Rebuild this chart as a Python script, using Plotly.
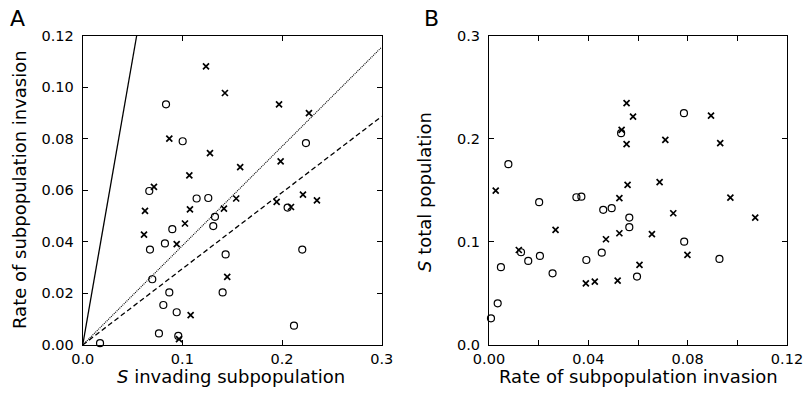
import numpy as np
import plotly.graph_objects as go

# ---------------- Panel A data ----------------
a_circle_x = [0.0836, 0.1003, 0.0668, 0.1143, 0.1260, 0.1327, 0.1310, 0.0899, 0.0825, 0.0675,
              0.1434, 0.0698, 0.0869, 0.1404, 0.0809, 0.0943, 0.0765, 0.0959, 0.0174, 0.2240,
              0.2056, 0.2203, 0.2120]
a_circle_y = [0.0933, 0.0790, 0.0597, 0.0568, 0.0570, 0.0497, 0.0461, 0.0449, 0.0394, 0.0370,
              0.0351, 0.0255, 0.0204, 0.0204, 0.0155, 0.0127, 0.0045, 0.0035, 0.0007, 0.0783,
              0.0533, 0.0370, 0.0075]
a_cross_x = [0.1237, 0.1427, 0.1970, 0.2270, 0.0869, 0.1277, 0.1580, 0.1986, 0.1070, 0.0715,
             0.1540, 0.2210, 0.2350, 0.1417, 0.1946, 0.2090, 0.0625, 0.1076, 0.1026, 0.0615,
             0.0943, 0.1450, 0.1083, 0.0966]
a_cross_y = [0.1080, 0.0977, 0.0933, 0.0899, 0.0800, 0.0744, 0.0690, 0.0712, 0.0658, 0.0613,
             0.0568, 0.0583, 0.0561, 0.0529, 0.0555, 0.0535, 0.0520, 0.0526, 0.0471, 0.0428,
             0.0391, 0.0264, 0.0116, 0.0023]
# reference line slopes (solid, dotted, dashed)
slope_solid = 2.215
slope_dotted = 0.385
slope_dashed = 0.2955

# ---------------- Panel B data ----------------
b_circle_x = [0.0008, 0.0035, 0.0048, 0.0078, 0.0129, 0.0158, 0.0205, 0.0202, 0.0256, 0.0352,
              0.0372, 0.0392, 0.0454, 0.0460, 0.0494, 0.0532, 0.0565, 0.0565, 0.0596, 0.0785,
              0.0786, 0.0928]
b_circle_y = [0.0259, 0.0404, 0.0754, 0.1753, 0.0899, 0.0815, 0.0863, 0.1384, 0.0695, 0.1432,
              0.1438, 0.0824, 0.0895, 0.1310, 0.1326, 0.2053, 0.1235, 0.1142, 0.0663, 0.2247,
              0.1002, 0.0834]
b_cross_x = [0.0027, 0.0120, 0.0268, 0.0390, 0.0426, 0.0471, 0.0525, 0.0525, 0.0518, 0.0534,
             0.0554, 0.0554, 0.0558, 0.0580, 0.0606, 0.0894, 0.0710, 0.0931, 0.0687, 0.0972,
             0.0742, 0.1072, 0.0656, 0.0799]
b_cross_y = [0.1497, 0.0921, 0.1115, 0.0598, 0.0614, 0.1025, 0.1423, 0.1083, 0.0624, 0.2085,
             0.1947, 0.2344, 0.1552, 0.2214, 0.0776, 0.2224, 0.1988, 0.1956, 0.1578, 0.1429,
             0.1277, 0.1235, 0.1074, 0.0873]

FONT = "DejaVu Sans, Liberation Sans, Arial, sans-serif"
W, H = 805, 407

circ = dict(symbol="circle-open", size=7, color="black", line=dict(width=1.2, color="black"))
crs = dict(symbol="x-thin-open", size=6, color="black", line=dict(width=1.7, color="black"))

fig = go.Figure()

# Panel A lines
xs_solid = np.array([0.0, 0.12 / slope_solid])
fig.add_trace(go.Scatter(x=xs_solid, y=slope_solid * xs_solid, mode="lines",
                         line=dict(color="black", width=1.3), xaxis="x", yaxis="y", showlegend=False))
xs_full = np.array([0.0, 0.3])
fig.add_trace(go.Scatter(x=xs_full, y=slope_dotted * xs_full, mode="lines",
                         line=dict(color="black", width=1.1, dash="1px,1px"), xaxis="x", yaxis="y", showlegend=False))
fig.add_trace(go.Scatter(x=xs_full, y=slope_dashed * xs_full, mode="lines",
                         line=dict(color="black", width=1.3, dash="5px,3px"), xaxis="x", yaxis="y", showlegend=False))

# Panel A markers
fig.add_trace(go.Scatter(x=a_circle_x, y=a_circle_y, mode="markers", marker=circ,
                         xaxis="x", yaxis="y", showlegend=False, cliponaxis=False))
fig.add_trace(go.Scatter(x=a_cross_x, y=a_cross_y, mode="markers", marker=crs,
                         xaxis="x", yaxis="y", showlegend=False, cliponaxis=False))
# Panel B markers
fig.add_trace(go.Scatter(x=b_circle_x, y=b_circle_y, mode="markers", marker=circ,
                         xaxis="x2", yaxis="y2", showlegend=False, cliponaxis=False))
fig.add_trace(go.Scatter(x=b_cross_x, y=b_cross_y, mode="markers", marker=crs,
                         xaxis="x2", yaxis="y2", showlegend=False, cliponaxis=False))

ax_common = dict(showline=True, linecolor="black", linewidth=1, mirror="ticks",
                 ticks="inside", ticklen=5, tickwidth=1, tickcolor="black",
                 showgrid=False, zeroline=False, fixedrange=True, automargin=False,
                 tickfont=dict(family=FONT, size=14.5, color="black"))

yd = [1 - 345 / H, 1 - 35.5 / H]

fig.update_layout(
    width=W, height=H,
    margin=dict(l=0, r=0, t=0, b=0, autoexpand=False),
    paper_bgcolor="white", plot_bgcolor="white",
    font=dict(family=FONT, color="black"),
    xaxis=dict(domain=[82.7 / W, 381.7 / W], range=[0, 0.3], dtick=0.1, tickformat=".1f",
               anchor="y", ticklabelstandoff=1, **ax_common),
    yaxis=dict(domain=yd, range=[0, 0.12], dtick=0.02, tickformat=".2f",
               anchor="x", ticklabelstandoff=5, **ax_common),
    xaxis2=dict(domain=[489 / W, 787 / W], range=[0, 0.12], dtick=0.04, tickformat=".2f",
                anchor="y2", ticklabelstandoff=1,
                minor=dict(dtick=0.02, ticks="inside", ticklen=5, tickcolor="black"), **ax_common),
    yaxis2=dict(domain=yd, range=[0, 0.3], dtick=0.1, tickformat=".1f",
                anchor="x2", ticklabelstandoff=5, **ax_common),
)

def ann(text, px, py, size, angle=0):
    fig.add_annotation(text=text, x=px / W, y=1 - py / H, xref="paper", yref="paper",
                       showarrow=False, textangle=angle, xanchor="center", yanchor="middle",
                       font=dict(family=FONT, size=size, color="black"))

ann("A", 17.5, 18, 22)
ann("B", 432, 18, 22)
ann("<i>S</i> invading subpopulation", 231, 376, 18)
ann("Rate of subpopulation invasion", 638, 376, 18)
ann("Rate of subpopulation invasion", 19, 190, 18, -90)
ann("<i>S</i> total population", 424, 192, 18, -90)

fig.write_html("out.html", config={"displayModeBar": False},
               post_script="document.body.style.margin='0';document.body.style.overflow='hidden';")
